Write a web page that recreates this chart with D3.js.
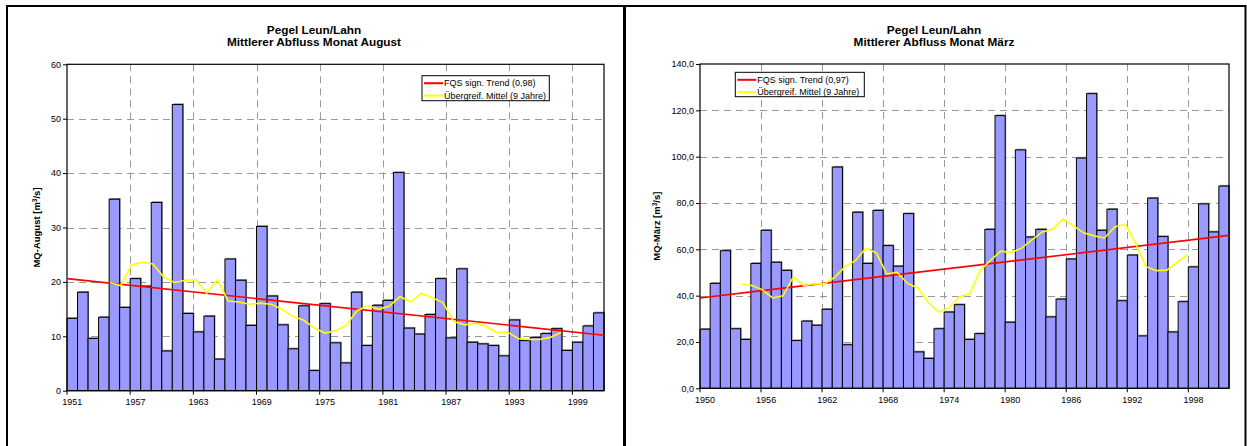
<!DOCTYPE html>
<html><head><meta charset="utf-8">
<script src="https://cdn.jsdelivr.net/npm/d3@7"></script>
<style>
body{margin:0;background:#fff;}
svg{display:block;font-family:"Liberation Sans",Arial,Helvetica,sans-serif;}
</style>
</head><body>
<svg id="c" width="1247" height="446"></svg>
<script>
// ---------- Data: August (left chart) ----------
const augYears = d3.range(1951, 2002);
const augValues = [13.3,18.1,9.6,13.5,35.2,15.3,20.6,19.2,34.6,7.3,
  52.6,14.2,10.8,13.7,5.8,24.2,20.3,12.0,30.2,17.4,
  12.1,7.7,15.6,3.7,16.0,8.8,5.1,18.1,8.3,15.7,
  16.6,40.1,11.5,10.4,14.0,20.6,9.7,22.4,8.9,8.6,
  8.3,6.4,13.0,9.2,9.8,10.5,11.4,7.4,8.9,11.9,14.3];
const augMAYears = d3.range(1955, 1998);
const augMA = [19.9,19.3,23.1,23.6,23.3,20.9,19.9,20.3,20.4,17.9,
  20.4,16.5,16.3,15.9,16.1,15.9,15.0,13.7,13.0,11.6,
  10.6,11.0,12.0,14.7,15.6,15.0,15.5,17.3,16.3,17.9,
  17.1,16.2,12.7,12.1,12.4,11.9,10.7,10.8,9.6,9.4,
  9.4,9.8,10.7];
const augTrendYears = [1951, 2001];
const augTrend = [20.6, 10.2];
const augXTicks = [1951,1957,1963,1969,1975,1981,1987,1993,1999];
const augYTicks = [0,10,20,30,40,50,60];

// ---------- Data: March (right chart) ----------
const marYears = d3.range(1950, 2002);
const marValues = [25.5,45.3,59.4,25.7,21.1,53.9,68.2,54.4,50.9,20.6,
  29.0,27.2,34.1,95.5,18.8,76.0,53.9,76.8,61.6,52.7,
  75.4,15.7,12.9,25.7,32.9,36.1,21.1,23.6,68.6,117.7,
  28.5,102.9,65.3,68.6,30.8,38.5,55.8,99.4,127.2,68.2,
  77.3,37.8,57.5,22.6,82.1,65.5,24.3,37.4,52.4,79.6,67.5,87.3];
const marMAYears = d3.range(1954, 1998);
const marMA = [44.9,44.4,42.6,39.0,39.9,48.2,44.3,45.2,45.1,48.0,
  52.5,55.2,60.5,58.5,49.3,50.1,45.3,43.3,37.1,32.9,
  34.7,39.4,40.8,50.8,55.2,59.2,58.6,60.5,64.1,67.5,
  68.6,73.0,70.1,67.1,65.8,64.9,69.8,70.8,62.5,52.5,
  50.8,51.0,54.3,57.6];
const marTrendYears = [1950, 2001];
const marTrend = [39.0, 66.0];
const marXTicks = [1950,1956,1962,1968,1974,1980,1986,1992,1998];
const marYTicks = [0,20,40,60,80,100,120,140];

const titleLine1 = "Pegel Leun/Lahn";
const augTitle2 = "Mittlerer Abfluss Monat August";
const marTitle2 = "Mittlerer Abfluss Monat März";
const legendTrendAug = "FQS sign. Trend (0,98)";
const legendTrendMar = "FQS sign. Trend (0,97)";
const legendMA = "Übergreif. Mittel (9 Jahre)";

const svg = d3.select("#c");

// panel frames
svg.append("rect").attr("x",7).attr("y",6).attr("width",617).attr("height",460)
  .attr("fill","none").attr("stroke","#000").attr("stroke-width",2);
svg.append("rect").attr("x",625).attr("y",6).attr("width",620.5).attr("height",460)
  .attr("fill","none").attr("stroke","#000").attr("stroke-width",2);

function drawChart(cfg){
  const g = svg.append("g");
  const {x0,x1,y0,y1} = cfg;
  const xb = d3.scaleBand().domain(cfg.years).range([x0,x1]).padding(0);
  const xp = d3.scalePoint().domain(cfg.years).range([x0,x1]).padding(0);
  const y = d3.scaleLinear().domain([0, d3.max(cfg.yTicks)]).range([y1,y0]);

  // title (two separate lines)
  g.append("text").attr("x",cfg.titleX).attr("y",33.5)
    .attr("text-anchor","middle").attr("font-weight","bold").attr("font-size","11.8px").attr("fill","#000")
    .text(titleLine1);
  g.append("text").attr("x",cfg.titleX).attr("y",45.5)
    .attr("text-anchor","middle").attr("font-weight","bold").attr("font-size","11.8px").attr("fill","#000")
    .text(cfg.title2);

  // gridlines
  g.append("g").selectAll("line").data(cfg.yTicks.filter(v=>v>0 && v<d3.max(cfg.yTicks)))
    .join("line").attr("x1",x0).attr("x2",x1)
    .attr("y1",d=>Math.round(y(d))+0.5).attr("y2",d=>Math.round(y(d))+0.5)
    .attr("stroke","#9a9a9a").attr("stroke-dasharray","7,5");
  g.append("g").selectAll("line").data(cfg.xTicks.slice(1))
    .join("line").attr("y1",y0).attr("y2",y1)
    .attr("x1",d=>Math.round(xb(d))+0.5).attr("x2",d=>Math.round(xb(d))+0.5)
    .attr("stroke","#9a9a9a").attr("stroke-dasharray","7,5");

  // bar shadows + bars
  g.append("g").selectAll("rect").data(cfg.years)
    .join("rect")
    .attr("x",d=>xb(d)+1).attr("width",xb.bandwidth())
    .attr("y",(d,i)=>y(cfg.values[i])-1.2).attr("height",(d,i)=>y1-y(cfg.values[i]))
    .attr("fill","#8a8a8a");
  g.append("g").selectAll("rect").data(cfg.years)
    .join("rect")
    .attr("x",d=>xb(d)).attr("width",xb.bandwidth())
    .attr("y",(d,i)=>y(cfg.values[i])).attr("height",(d,i)=>y1-y(cfg.values[i]))
    .attr("fill","#9999ff").attr("stroke","#000").attr("stroke-width",1);

  // plot border
  g.append("rect").attr("x",x0).attr("y",y0).attr("width",x1-x0).attr("height",y1-y0)
    .attr("fill","none").attr("stroke","#000").attr("stroke-width",1.2);

  // trend line
  const line = d3.line().x(d=>xp(d[0])).y(d=>y(d[1]));
  g.append("path").datum(cfg.trendYears.map((yr,i)=>[yr,cfg.trend[i]]))
    .attr("d",line).attr("fill","none").attr("stroke","#ff0000").attr("stroke-width",1.6);
  // moving average
  g.append("path").datum(cfg.maYears.map((yr,i)=>[yr,cfg.ma[i]]))
    .attr("d",line).attr("fill","none").attr("stroke","#ffff00").attr("stroke-width",1.6);

  // y axis
  const ya = g.append("g").attr("transform",`translate(${x0},0)`)
    .call(d3.axisLeft(y).tickValues(cfg.yTicks).tickSize(4).tickPadding(2).tickFormat(cfg.yFmt));
  ya.select(".domain").remove();
  ya.selectAll("line").attr("stroke","#000");
  ya.selectAll("text").attr("font-size","9px").attr("fill","#000")
    .attr("font-family","'Liberation Sans',Arial,sans-serif");

  // x axis: labels centered on band, ticks at band edges
  const xa = g.append("g").attr("transform",`translate(0,${y1})`)
    .call(d3.axisBottom(xb).tickValues(cfg.xTicks).tickSize(0).tickPadding(8));
  xa.select(".domain").remove();
  xa.selectAll("text").attr("font-size","9px").attr("fill","#000")
    .attr("font-family","'Liberation Sans',Arial,sans-serif");
  g.append("g").selectAll("line").data(cfg.xTicks).join("line")
    .attr("x1",d=>xb(d)).attr("x2",d=>xb(d)).attr("y1",y1).attr("y2",y1+4)
    .attr("stroke","#000");

  // y title
  const yt = g.append("text")
    .attr("transform",`translate(${cfg.yTitleX},${(y0+y1)/2}) rotate(-90)`)
    .attr("text-anchor","middle").attr("font-weight","bold").attr("font-size","9.5px").attr("fill","#000");
  yt.append("tspan").text(cfg.yTitle + "[m");
  yt.append("tspan").attr("font-size","6.5px").attr("dy","-3.5").text("3");
  yt.append("tspan").attr("dy","3.5").text("/s]");

  // legend
  const L = cfg.legend;
  const lg = g.append("g");
  lg.append("rect").attr("x",L.x).attr("y",L.y).attr("width",L.w).attr("height",L.h)
    .attr("fill","#fff").attr("stroke","#000").attr("stroke-width",1);
  const items = [[cfg.legendTrend,"#ff0000"],[legendMA,"#ffff00"]];
  items.forEach((it,i)=>{
    const cy = L.y + 7.5 + i*12.4;
    lg.append("line").attr("x1",L.x+2).attr("x2",L.x+21).attr("y1",cy).attr("y2",cy)
      .attr("stroke",it[1]).attr("stroke-width",2);
    lg.append("text").attr("x",L.x+22).attr("y",cy+3.2).attr("font-size","9px").attr("fill","#000")
      .text(it[0]);
  });
}

drawChart({
  years: augYears, values: augValues, ma: augMA, maYears: augMAYears,
  trend: augTrend, trendYears: augTrendYears, xTicks: augXTicks, yTicks: augYTicks,
  yFmt: d3.format("d"),
  x0: 67, x1: 604, y0: 64.3, y1: 390.7, titleX: 314,
  title2: augTitle2, yTitle: "MQ-August  ", yTitleX: 40,
  legendTrend: legendTrendAug,
  legend: {x: 422, y: 75.7, w: 127.3, h: 25}
});
drawChart({
  years: marYears, values: marValues, ma: marMA, maYears: marMAYears,
  trend: marTrend, trendYears: marTrendYears, xTicks: marXTicks, yTicks: marYTicks,
  yFmt: d=>d3.format(".1f")(d).replace(".", ","),
  x0: 700, x1: 1229, y0: 64, y1: 388.3, titleX: 934,
  title2: marTitle2, yTitle: "MQ-März ", yTitleX: 660,
  legendTrend: legendTrendMar,
  legend: {x: 735.3, y: 72.3, w: 129, h: 24.4}
});
</script>
</body></html>
